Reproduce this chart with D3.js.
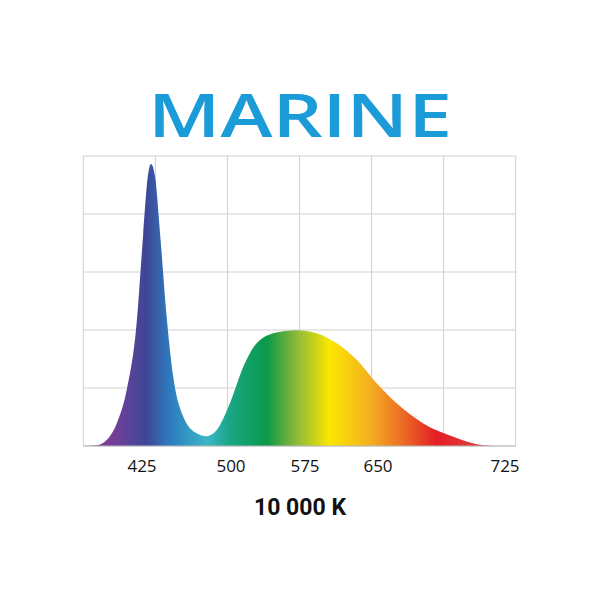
<!DOCTYPE html><html><head><script src="https://cdn.jsdelivr.net/npm/d3@7"></script>
<style>body{margin:0;background:#fff}</style></head><body><svg id="c" width="600" height="600"></svg>
<script>
const wavelengths=[369,381.8,391.3,400.9,410.4,419.9,426.2,431,433.6,437.4,442.2,448.5,454.8,464.4,477.1,486.7,496.2,508.9,521.6,534.3,553.4,572.5,591.5,610.6,629.7,648.7,667.8,693.2,721.8,750.4,769.2,781];
const intensity=[0,0.3,2.1,7.8,19.3,42.4,73.4,94.1,97.2,93,73.4,44.6,23.9,10.1,4.4,3.4,5.5,14.8,27.3,35.4,39.1,39.9,38.9,35.4,29.7,21.6,14.7,7.8,3.2,0.3,0,0];
const tickLabels=[425,500,575,650,725];
const gradNm=[394,429,452,487,509,544,572,604,642,674,706,754];
const gradColors=["#7a3e98","#3d4797","#2e7cbf","#3bb7c6","#1aa585","#0a9a48","#8db83a","#fbe700","#f4b020","#ec6b25","#e31e24","#e04545"];
const svg=d3.select("#c");
const L=83.3,R=515.7,T=156,B=446;
const x=d3.scaleLinear().domain([425,650]).range([142,378]);
const xl=d3.scaleLinear().domain(tickLabels).range([142,231,305,378,505]);
const y=d3.scaleLinear().domain([0,100]).range([B,T]);
const gx=d3.scaleLinear().domain([0,6]).range([L,R]);
const defs=svg.append("defs");
const g=defs.append("linearGradient").attr("id","sp").attr("gradientUnits","userSpaceOnUse").attr("x1",x(gradNm[0])).attr("x2",x(gradNm[gradNm.length-1])).attr("y1",0).attr("y2",0);
gradNm.forEach((n,i)=>g.append("stop").attr("offset",(n-gradNm[0])/(gradNm[gradNm.length-1]-gradNm[0])).attr("stop-color",gradColors[i]));
for(let i=0;i<=6;i++)svg.append("line").attr("x1",gx(i)).attr("x2",gx(i)).attr("y1",T).attr("y2",B).attr("stroke","#d0d0d0");
for(let i=0;i<=5;i++)svg.append("line").attr("x1",L).attr("x2",R).attr("y1",y(i*20)).attr("y2",y(i*20)).attr("stroke","#d0d0d0");
const data=wavelengths.map((w,i)=>[w,intensity[i]]);
svg.append("path").datum(data).attr("fill","url(#sp)").attr("d",d3.area().x(d=>x(d[0])).y0(B).y1(d=>y(d[1])).curve(d3.curveMonotoneX));
svg.append("line").attr("x1",L).attr("x2",R).attr("y1",B).attr("y2",B).attr("stroke","#bbb");
svg.selectAll(".t").data(tickLabels).enter().append("text").attr("x",d=>xl(d)).attr("y",472).attr("text-anchor","middle").attr("font-family","Open Sans, sans-serif").attr("font-size",17).attr("fill","#111").text(d=>d);
svg.append("text").attr("x",300).attr("y",137).attr("text-anchor","middle").attr("font-family","Open Sans, sans-serif").attr("font-weight",600).attr("font-size",60).attr("fill","#1b9bd7").attr("textLength",304).attr("lengthAdjust","spacingAndGlyphs").text("MARINE");
svg.append("text").attr("x",300).attr("y",515).attr("text-anchor","middle").attr("font-family","Roboto, sans-serif").attr("font-weight",700).attr("font-size",23).attr("fill","#111").text("10 000 K");
</script></body></html>
